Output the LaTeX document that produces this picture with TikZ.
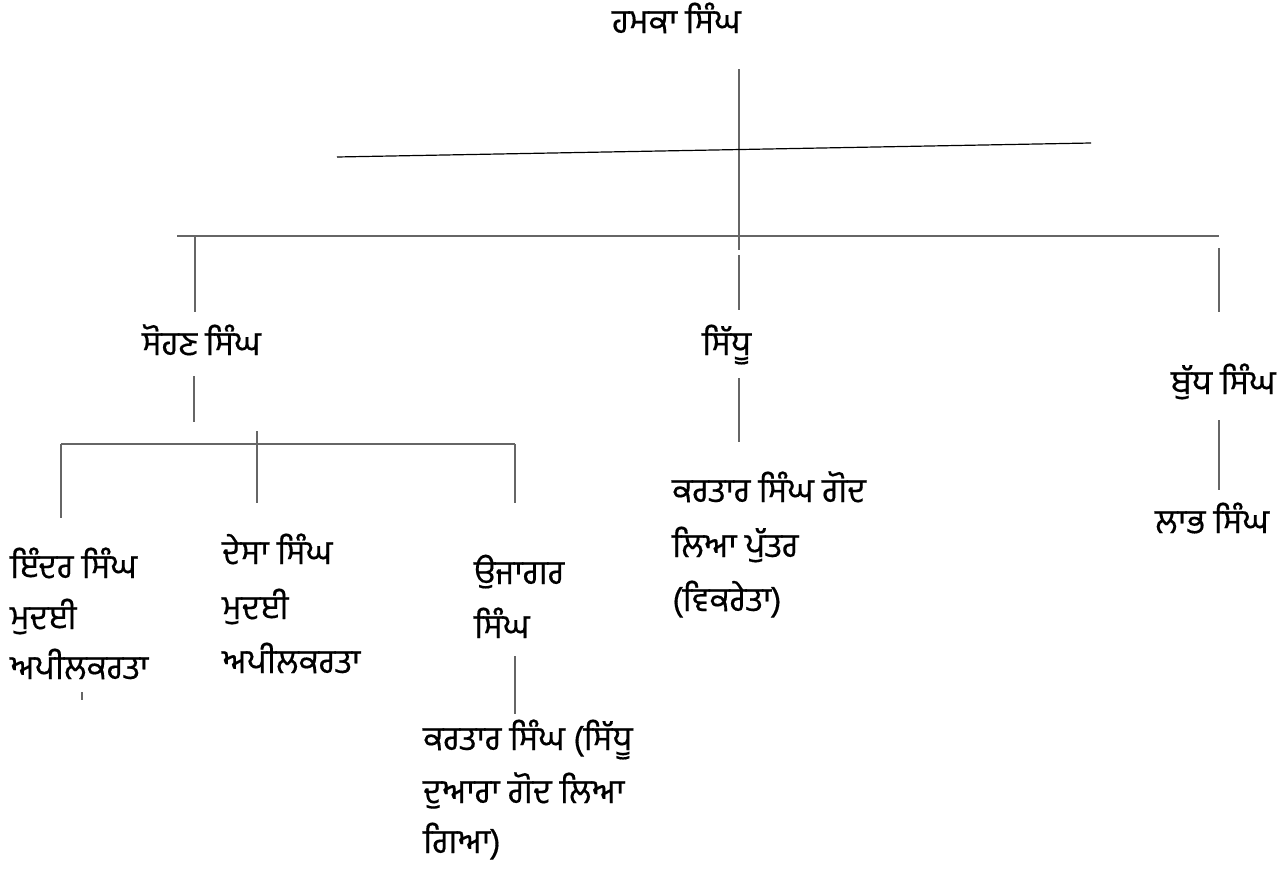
\documentclass[tikz,border=0pt]{standalone}
\usepackage{fontspec}
\newfontfamily\gurmukhi[Script=Gurmukhi,FakeBold=0.4]{Hind Jalandhar}
\usetikzlibrary{positioning}
\begin{document}
\begin{tikzpicture}[x=1bp,y=-1bp]
\tikzstyle{person}=[anchor=base west, inner sep=0pt, font=\gurmukhi\fontsize{34}{40}\selectfont]
\tikzstyle{branch}=[draw=black!60, line width=1.2bp]
\useasboundingbox (0,0) rectangle (1285,879);

% names
\node[person] (hamka) at (612,33) {ਹਮਕਾ ਸਿੰਘ};
\node[person] (sohan) at (142,355) {ਸੋਹਣ ਸਿੰਘ};
\node[person] (sidhu) at (702,355) {ਸਿੱਧੂ};
\node[person] (budh) at (1171,394) {ਬੁੱਧ ਸਿੰਘ};
\node[person] (labh) at (1155,533) {ਲਾਭ ਸਿੰਘ};
\node[person] (inder1) at (10,578) {ਇੰਦਰ ਸਿੰਘ};
\node[person] (inder2) at (10,629) {ਮੁਦਈ};
\node[person] (inder3) at (10,679) {ਅਪੀਲਕਰਤਾ};
\node[person] (desa1) at (222,564) {ਦੇਸਾ ਸਿੰਘ};
\node[person] (desa2) at (222,619) {ਮੁਦਈ};
\node[person] (desa3) at (222,673) {ਅਪੀਲਕਰਤਾ};
\node[person] (ujagar1) at (474,584) {ਉਜਾਗਰ};
\node[person] (ujagar2) at (474,638) {ਸਿੰਘ};
\node[person] (god1) at (672,502) {ਕਰਤਾਰ ਸਿੰਘ ਗੋਦ};
\node[person] (god2) at (672,557) {ਲਿਆ ਪੁੱਤਰ};
\node[person] (god3) at (672,611) {(ਵਿਕਰੇਤਾ)};
\node[person] (kartar1) at (423,750) {ਕਰਤਾਰ ਸਿੰਘ (ਸਿੱਧੂ};
\node[person] (kartar2) at (423,803) {ਦੁਆਰਾ ਗੋਦ ਲਿਆ};
\node[person] (kartar3) at (423,853) {ਗਿਆ)};

% lines
\draw[branch] (739,69) -- (739,250);
\draw[branch] (739,255) -- (739,310);
\draw[branch, draw=black] (337,157) -- (1091,143);
\draw[branch] (177,236) -- (1219,236);
\draw[branch] (195,236) -- (195,312);
\draw[branch] (1219,248) -- (1219,312);
\draw[branch] (194,376) -- (194,422);
\draw[branch] (739,378) -- (739,442);
\draw[branch] (1219,420) -- (1219,490);
\draw[branch] (61,444) -- (515,444);
\draw[branch] (61,444) -- (61,518);
\draw[branch] (257,431) -- (257,503);
\draw[branch] (515,444) -- (515,503);
\draw[branch] (82,692) -- (82,700);
\draw[branch] (515,656) -- (515,714);
\end{tikzpicture}
\end{document}
